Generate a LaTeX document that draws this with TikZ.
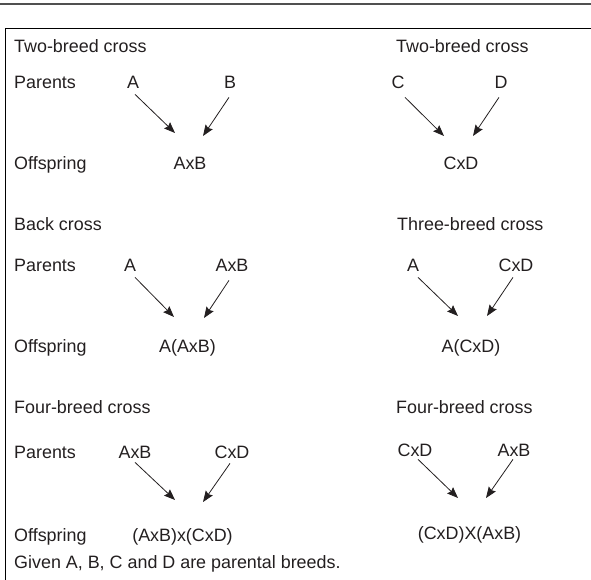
\documentclass[tikz,border=0pt]{standalone}
\usepackage{fontspec}
\setmainfont{Liberation Sans}
\usetikzlibrary{arrows.meta}
\definecolor{inkgray}{RGB}{35,31,32}
\definecolor{rulegray}{RGB}{80,80,80}

\begin{document}
\begin{tikzpicture}[x=1bp,y=1bp]
\tikzstyle{every node}+=[inner sep=0pt, text=inkgray, font=\fontsize{17.9bp}{21bp}\selectfont, text height=12.3bp, text depth=0pt]
\tikzstyle{lbl}=[anchor=west]
\tikzstyle{cross}=[inkgray, line width=0.8bp, -{Stealth[length=11bp,width=8.5bp,inset=1.5bp]}]
\useasboundingbox (0,0) rectangle (591,-580);
% rules and frame
\draw [rulegray, line width=2bp] (0,-4) -- (591,-4);
\draw [black, line width=1bp] (591,-29) -- (5,-29) -- (5,-580);
% two-breed cross, left
\draw (14,-46) node [lbl] (h1) {Two-breed cross};
\draw (14,-82) node [lbl] (par1) {Parents};
\draw (133,-82) node (a1) {A};
\draw (230,-82) node (b1) {B};
\draw (14,-163) node [lbl] (off1) {Offspring};
\draw (190,-163) node (ab1) {AxB};
\coordinate (ta1) at (175,-133);
\coordinate (tb1) at (203,-136);
\draw [cross] ([xshift=2bp,yshift=-6bp]a1.south) -- (ta1);
\draw [cross] ([xshift=-1bp,yshift=-9bp]b1.south) -- (tb1);
% two-breed cross, right
\draw (396,-46) node [lbl] (h1r) {Two-breed cross};
\draw (398,-82) node (c1) {C};
\draw (501,-82) node (d1) {D};
\draw (461,-163) node (cd1) {CxD};
\coordinate (tc1) at (444,-136);
\coordinate (td1) at (473,-136);
\draw [cross] ([xshift=7bp,yshift=-9bp]c1.south) -- (tc1);
\draw [cross] ([xshift=-2bp,yshift=-9bp]d1.south) -- (td1);
% back cross
\draw (14,-224) node [lbl] (h2) {Back cross};
\draw (14,-265) node [lbl] (par2) {Parents};
\draw (130,-265) node (a2) {A};
\draw (232,-265) node (ab2) {AxB};
\draw (14,-346) node [lbl] (off2) {Offspring};
\draw (187.5,-346) node (aab2) {A(AxB)};
\coordinate (ta2) at (174,-317);
\coordinate (tab2) at (204,-318);
\draw [cross] ([xshift=5bp,yshift=-6bp]a2.south) -- (ta2);
\draw [cross] ([xshift=-3bp,yshift=-9bp]ab2.south) -- (tab2);
% three-breed cross
\draw (397,-224) node [lbl] (h2r) {Three-breed cross};
\draw (413,-265) node (a2r) {A};
\draw (516,-265) node (cd2r) {CxD};
\draw (471,-346) node (acd2) {A(CxD)};
\coordinate (ta2r) at (458,-316);
\coordinate (tcd2r) at (487,-316);
\draw [cross] ([xshift=5bp,yshift=-6bp]a2r.south) -- (ta2r);
\draw [cross] ([xshift=-3bp,yshift=-6bp]cd2r.south) -- (tcd2r);
% four-breed cross, left
\draw (14,-407) node [lbl] (h3) {Four-breed cross};
\draw (14,-452) node [lbl] (par3) {Parents};
\draw (135,-452) node (ab3) {AxB};
\draw (232,-452) node (cd3) {CxD};
\draw (14,-535) node [lbl] (off3) {Offspring};
\draw (182.5,-535) node (abcd3) {(AxB)x(CxD)};
\coordinate (tab3) at (175,-500);
\coordinate (tcd3) at (203,-502);
\draw [cross] ([yshift=-4bp]ab3.south) -- (tab3);
\draw [cross] ([xshift=-2bp,yshift=-5bp]cd3.south) -- (tcd3);
% four-breed cross, right
\draw (396,-407) node [lbl] (h3r) {Four-breed cross};
\draw (415,-450) node (cd3r) {CxD};
\draw (514,-450) node (ab3r) {AxB};
\draw (469.5,-533) node (cdab3) {(CxD)X(AxB)};
\coordinate (tcd3r) at (458,-498);
\coordinate (tab3r) at (486,-498);
\draw [cross] ([xshift=3bp,yshift=-3bp]cd3r.south) -- (tcd3r);
\draw [cross] ([xshift=-1bp,yshift=-3bp]ab3r.south) -- (tab3r);
% note
\draw (14,-562) node [lbl] (note) {Given A, B, C and D are parental breeds.};
\end{tikzpicture}
\end{document}
